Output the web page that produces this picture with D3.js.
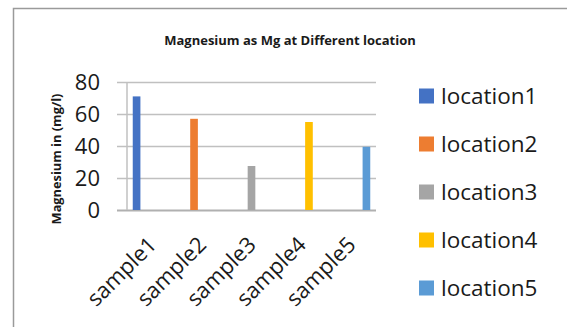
<!DOCTYPE html>
<html>
<head>
<meta charset="utf-8">
<script src="https://cdn.jsdelivr.net/npm/d3@7"></script>
<style>
  body { margin: 0; background: #fff; }
  text { font-family: "Open Sans", Lato, sans-serif; fill: #1a1a1a; }
  .title { font-size: 13px; font-weight: bold; }
  .axis-title { font-size: 12.8px; font-weight: bold; }
  .tick text { font-size: 22px; }
  .legend-label { font-size: 22.5px; }
</style>
</head>
<body>
<div id="chart"></div>
<script>
// grouped column chart - magnesium per sample, one location per sample

const categories = ["sample1", "sample2", "sample3", "sample4", "sample5"];
const seriesNames = ["location1", "location2", "location3", "location4", "location5"];

// one value per sample for each location (null = no bar)
const location1 = [71, null, null, null, null];
const location2 = [null, 57, null, null, null];
const location3 = [null, null, 27.5, null, null];
const location4 = [null, null, null, 55, null];
const location5 = [null, null, null, null, 39.5];

const yTicks = [0, 20, 40, 60, 80];

const seriesColors = ["#4472c4", "#ed7d31", "#a5a5a5", "#ffc000", "#5b9bd5"];

const width = 567;
const height = 327;
const plot = { left: 127, right: 376, top: 82, bottom: 210, gridStart: 117 };

const seriesValues = [location1, location2, location3, location4, location5];

const barData = [];
seriesNames.forEach((s, si) => {
    seriesValues[si].forEach((v, ci) => {
        if (v !== null) barData.push({ series: s, category: categories[ci], value: v });
    });
});

const svg = d3.select("#chart")
    .append("svg")
    .attr("width", width)
    .attr("height", height);

// chart border (runs off the bottom/right of the picture)
svg.append("rect")
    .attr("x", 13.5)
    .attr("y", 8.5)
    .attr("width", 700)
    .attr("height", 400)
    .attr("fill", "none")
    .attr("stroke", "#9a9a9a")
    .attr("stroke-width", 1.5);

const y = d3.scaleLinear()
    .domain([0, 80])
    .range([plot.bottom, plot.top]);

const x0 = d3.scaleBand()
    .domain(categories)
    .range([plot.left, plot.right])
    .padding(0);

const x1 = d3.scaleBand()
    .domain(seriesNames)
    .range([0, x0.bandwidth()])
    .paddingInner(0)
    .paddingOuter(0.75);

const color = d3.scaleOrdinal()
    .domain(seriesNames)
    .range(seriesColors);

// y axis with gridlines
const gY = svg.append("g")
    .attr("class", "y-axis")
    .attr("transform", `translate(${plot.gridStart},0)`)
    .call(d3.axisLeft(y)
        .tickValues(yTicks)
        .tickSize(-(plot.right - plot.gridStart))
        .tickPadding(17)
        .tickFormat(d3.format("d")));

gY.select(".domain").remove();
gY.selectAll(".tick line")
    .attr("stroke", d => d === 0 ? "#b0b0b0" : "#c0c0c0")
    .attr("stroke-width", d => d === 0 ? 2 : 1.5);
gY.selectAll(".tick text")
    .attr("dy", "0.36em");

// vertical value axis line
svg.append("line")
    .attr("x1", plot.left)
    .attr("x2", plot.left)
    .attr("y1", y(80))
    .attr("y2", y(0))
    .attr("stroke", "#c0c0c0")
    .attr("stroke-width", 1.5);

// bars
svg.append("g")
    .attr("class", "bars")
    .selectAll("rect")
    .data(barData)
    .enter()
    .append("rect")
    .attr("x", d => x0(d.category) + x1(d.series))
    .attr("y", d => y(d.value))
    .attr("width", x1.bandwidth())
    .attr("height", d => y(0) - y(d.value))
    .attr("fill", d => color(d.series));

// x axis labels, rotated
const gX = svg.append("g")
    .attr("class", "x-axis")
    .attr("transform", `translate(0,${plot.bottom})`)
    .call(d3.axisBottom(x0).tickSize(0));

gX.select(".domain").remove();
gX.selectAll(".tick text")
    .attr("y", 0)
    .attr("dy", 0)
    .attr("text-anchor", "end")
    .attr("transform", "translate(6,36) rotate(-45)");

// titles
svg.append("text")
    .attr("class", "title")
    .attr("x", 290)
    .attr("y", 45)
    .attr("text-anchor", "middle")
    .text("Magnesium as Mg at Different location");

svg.append("text")
    .attr("class", "axis-title")
    .attr("transform", "rotate(-90)")
    .attr("x", -159)
    .attr("y", 61)
    .attr("text-anchor", "middle")
    .text("Magnesium in (mg/l)");

// legend
const legendY = d3.scaleBand()
    .domain(seriesNames)
    .range([72, 312]);

const gLegend = svg.append("g")
    .attr("class", "legend");

gLegend.selectAll("rect")
    .data(seriesNames)
    .enter()
    .append("rect")
    .attr("x", 419)
    .attr("y", d => legendY(d) + legendY.bandwidth() / 2 - 7.5)
    .attr("width", 15)
    .attr("height", 15)
    .attr("fill", d => color(d));

gLegend.selectAll("text")
    .data(seriesNames)
    .enter()
    .append("text")
    .attr("class", "legend-label")
    .attr("x", 441)
    .attr("y", d => legendY(d) + legendY.bandwidth() / 2)
    .attr("dy", "0.36em")
    .text(d => d);
</script>
</body>
</html>
